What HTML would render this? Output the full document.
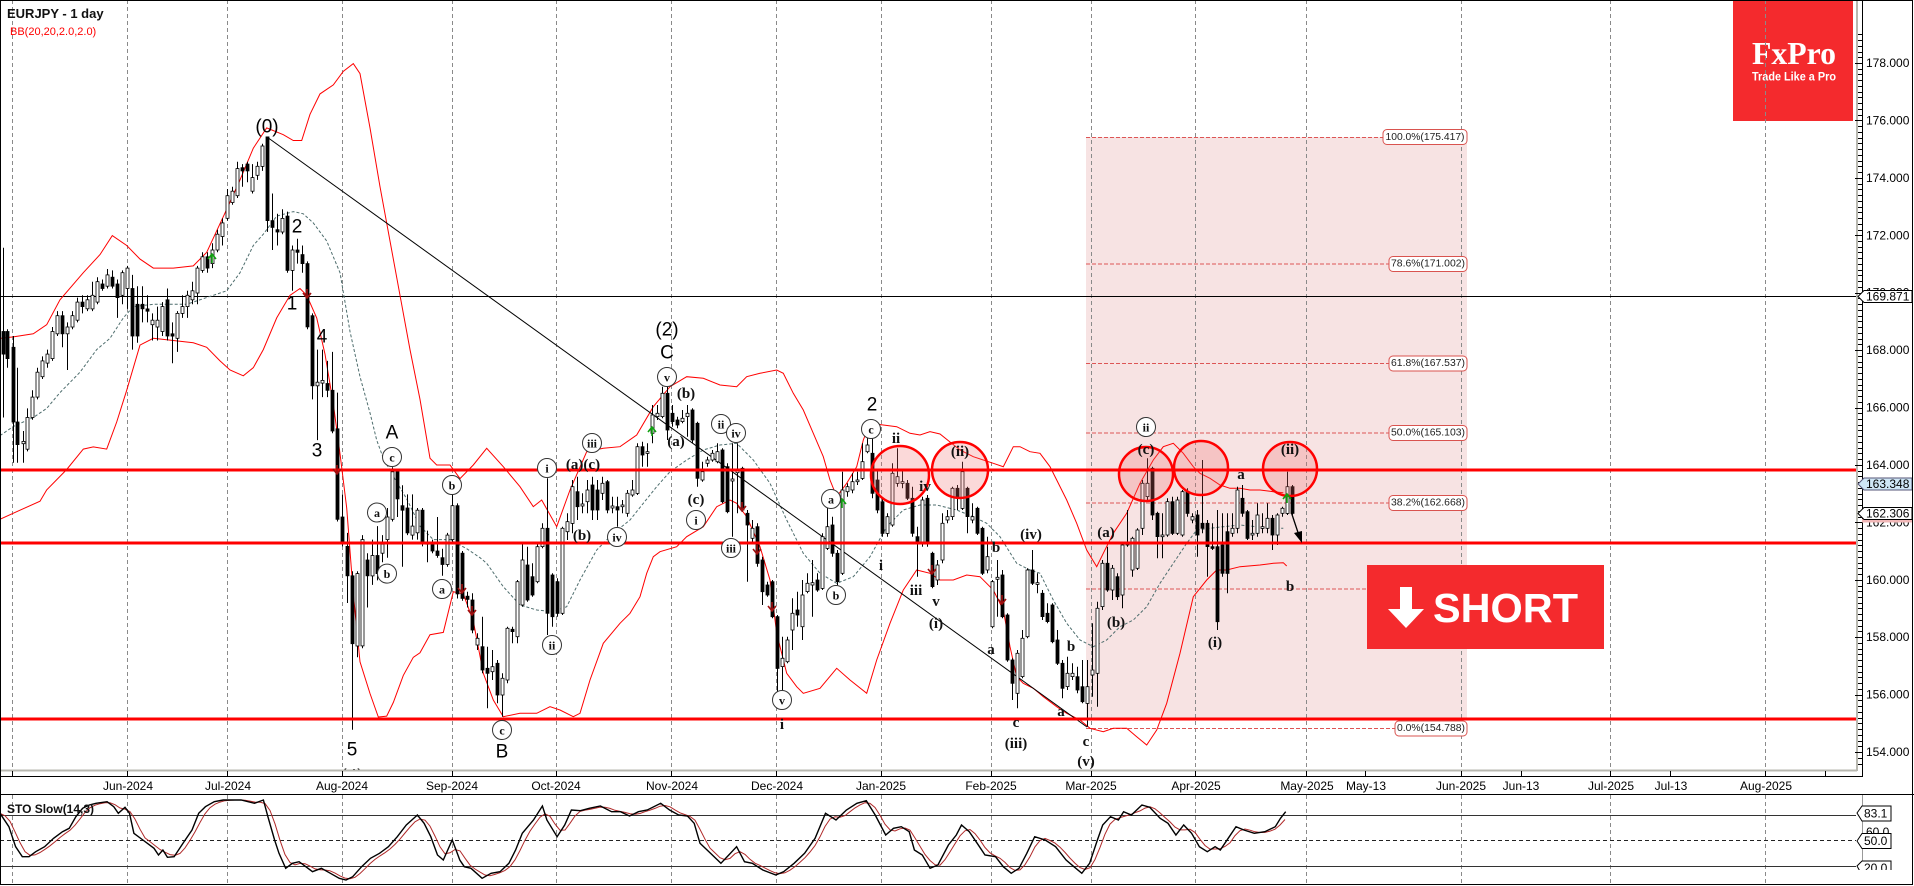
<!DOCTYPE html>
<html><head><meta charset="utf-8">
<style>
html,body{margin:0;padding:0;background:#fff;}
body{width:1914px;height:886px;overflow:hidden;position:relative;font-family:"Liberation Sans",sans-serif;}
svg{position:absolute;left:0;top:0;}
.ax{font-family:"Liberation Sans",sans-serif;font-size:12px;fill:#000;}
.ss{font-family:"Liberation Sans",sans-serif;font-size:19px;fill:#000;text-anchor:middle;dominant-baseline:central;}
.sf{font-family:"Liberation Serif",serif;font-size:15px;font-weight:bold;fill:#111;text-anchor:middle;dominant-baseline:central;}
.cf{font-family:"Liberation Serif",serif;font-size:12px;font-weight:bold;fill:#111;text-anchor:middle;dominant-baseline:central;}
.fl{font-family:"Liberation Sans",sans-serif;font-size:10px;fill:#222;text-anchor:middle;dominant-baseline:central;}
</style></head><body>
<svg id="s" width="1914" height="886" viewBox="0 0 1914 886" xmlns="http://www.w3.org/2000/svg">
<defs>
<clipPath id="mc"><rect x="1" y="1" width="1855" height="769"/></clipPath>
<clipPath id="sc"><rect x="1" y="795" width="1855" height="89"/></clipPath>
</defs>
<rect width="1914" height="886" fill="#fff"/>
<g clip-path="url(#mc)" id="main">
 <rect x="1086" y="137" width="381" height="582" fill="#f7e3e3"/>
 <rect x="1733" y="0" width="120" height="121" fill="#f42a2d"/>
 <text x="1752" y="64" font-family="Liberation Serif, serif" font-weight="bold" font-size="32" fill="#fff" textLength="84" lengthAdjust="spacingAndGlyphs">FxPro</text>
 <text x="1752" y="80.5" font-family="Liberation Sans, sans-serif" font-weight="bold" font-size="11.5" fill="#fff" textLength="84" lengthAdjust="spacingAndGlyphs">Trade Like a Pro</text>
 <path stroke="#8a8a8a" stroke-dasharray="4,3" stroke-width="1" fill="none" d="M12.5 0V770M127.5 0V770M227.5 0V770M342.5 0V770M452.5 0V770M556.5 0V770M671.5 0V770M776.5 0V770M881.5 0V770M991.5 0V770M1091.5 0V770M1195.5 0V770M1306.5 0V770M1461.5 0V770M1610.5 0V770M1765.5 0V770"/>
 <g stroke="#dd5555" stroke-width="1" stroke-dasharray="4,2" fill="none">
  <path d="M1086 137.5H1383"/>
  <path d="M1086 264H1389"/>
  <path d="M1086 363.5H1389"/>
  <path d="M1086 433H1389"/>
  <path d="M1086 503H1389"/>
  <path d="M1086 589H1380"/>
  <path d="M1086 728.5H1395"/>
 </g>
 <path d="M0 296.5H1856" stroke="#000" stroke-width="1"/>
 <g id="bb"></g>
 <path d="M267 137L1087 727" stroke="#000" stroke-width="1"/>
 <g id="candles"></g>
 <g fill="rgba(238,110,110,0.26)" stroke="#ff0000" stroke-width="2.5">
  <circle cx="900" cy="475" r="29"/>
  <circle cx="960" cy="470" r="28"/>
  <circle cx="1146" cy="474" r="27"/>
  <circle cx="1201" cy="468" r="27"/>
  <circle cx="1290" cy="469" r="27"/>
 </g>
 <g stroke="#ff0000" stroke-width="3">
  <path d="M0 470H1856"/><path d="M0 543H1856"/><path d="M0 719H1856"/>
 </g>
 <g id="arrows"></g>
 <path d="M1291.5 513L1298.5 534" stroke="#000" stroke-width="1.3"/>
 <path d="M1294 533L1302 531L1302 543Z" fill="#000"/>
 <text class="ss" x="267" y="127">(0)</text>
 <text class="ss" x="297" y="227">2</text>
 <text class="ss" x="292" y="304">1</text>
 <text class="ss" x="322" y="337">4</text>
 <text class="ss" x="317" y="451">3</text>
 <text class="ss" x="352" y="750">5</text>
 <text class="ss" x="352" y="777">(4)</text>
 <text class="ss" x="392" y="433">A</text>
 <text class="ss" x="502" y="752">B</text>
 <text class="ss" x="667" y="330">(2)</text>
 <text class="ss" x="667" y="353">C</text>
 <text class="ss" x="872" y="405">2</text>
 <g id="circ" fill="#fff" stroke="#333" stroke-width="1"></g>
 <text class="sf" x="583" y="465">(a)(c)</text>
 <text class="sf" x="582" y="536">(b)</text>
 <text class="sf" x="686" y="394">(b)</text>
 <text class="sf" x="676" y="442">(a)</text>
 <text class="sf" x="696" y="500">(c)</text>
 <text class="sf" x="782" y="725">i</text>
 <text class="sf" x="896" y="439">ii</text>
 <text class="sf" x="881" y="566">i</text>
 <text class="sf" x="925" y="487">iv</text>
 <text class="sf" x="916" y="591">iii</text>
 <text class="sf" x="936" y="602">v</text>
 <text class="sf" x="936" y="624">(i)</text>
 <text class="sf" x="960" y="452">(ii)</text>
 <text class="sf" x="996" y="548">b</text>
 <text class="sf" x="991" y="650">a</text>
 <text class="sf" x="1031" y="535">(iv)</text>
 <text class="sf" x="1016" y="723">c</text>
 <text class="sf" x="1016" y="744">(iii)</text>
 <text class="sf" x="1071" y="647">b</text>
 <text class="sf" x="1061" y="712">a</text>
 <text class="sf" x="1086" y="742">c</text>
 <text class="sf" x="1086" y="762">(v)</text>
 <text class="sf" x="1106" y="533">(a)</text>
 <text class="sf" x="1116" y="623">(b)</text>
 <text class="sf" x="1146" y="450">(c)</text>
 <text class="sf" x="1215" y="643">(i)</text>
 <text class="sf" x="1241" y="475">a</text>
 <text class="sf" x="1290" y="450">(ii)</text>
 <text class="sf" x="1290" y="587">b</text>
 <g fill="#fff" stroke="#d9534f" stroke-width="1">
  <rect x="1383" y="129.5" width="84" height="15" rx="4"/>
  <rect x="1389" y="256.5" width="78" height="15" rx="4"/>
  <rect x="1389" y="356" width="78" height="15" rx="4"/>
  <rect x="1389" y="425.5" width="78" height="15" rx="4"/>
  <rect x="1389" y="495.5" width="78" height="15" rx="4"/>
  <rect x="1395" y="721" width="72" height="15" rx="4"/>
 </g>
 <text class="fl" x="1425" y="137.5" textLength="79" lengthAdjust="spacingAndGlyphs">100.0%(175.417)</text>
 <text class="fl" x="1428" y="264" textLength="74" lengthAdjust="spacingAndGlyphs">78.6%(171.002)</text>
 <text class="fl" x="1428" y="363.5" textLength="74" lengthAdjust="spacingAndGlyphs">61.8%(167.537)</text>
 <text class="fl" x="1428" y="433" textLength="74" lengthAdjust="spacingAndGlyphs">50.0%(165.103)</text>
 <text class="fl" x="1428" y="503" textLength="74" lengthAdjust="spacingAndGlyphs">38.2%(162.668)</text>
 <text class="fl" x="1431" y="728.5" textLength="68" lengthAdjust="spacingAndGlyphs">0.0%(154.788)</text>
 <rect x="1367" y="565" width="237" height="84" fill="#f42a2d"/>
 <path d="M1400 587H1412V609H1424L1406 628L1388 609H1400Z" fill="#fff"/>
 <text x="1433" y="622" font-family="Liberation Sans, sans-serif" font-weight="bold" font-size="41" fill="#fff" textLength="145" lengthAdjust="spacingAndGlyphs">SHORT</text>
</g>
<text x="7" y="18" font-family="Liberation Sans, sans-serif" font-weight="bold" font-size="13" fill="#111">EURJPY - 1 day</text>
<text x="10" y="35" font-family="Liberation Sans, sans-serif" font-size="11" fill="#ff0000">BB(20,20,2.0,2.0)</text>
<path d="M1857 0V771M0 770.5H1857" stroke="#b8b8b0" stroke-width="2" fill="none"/>
<path d="M1862.5 0V776.5H0" stroke="#000" stroke-width="1" fill="none"/>
<g id="pticks" stroke="#000" stroke-width="1"></g>
<g class="ax" text-anchor="start" dominant-baseline="central">
 <text x="1866" y="63">178.000</text>
 <text x="1866" y="120.4">176.000</text>
 <text x="1866" y="177.8">174.000</text>
 <text x="1866" y="235.3">172.000</text>
 <text x="1866" y="292.7">170.000</text>
 <text x="1866" y="350.1">168.000</text>
 <text x="1866" y="407.5">166.000</text>
 <text x="1866" y="464.9">164.000</text>
 <text x="1866" y="522.4">162.000</text>
 <text x="1866" y="579.8">160.000</text>
 <text x="1866" y="637.2">158.000</text>
 <text x="1866" y="694.6">156.000</text>
 <text x="1866" y="752">154.000</text>
</g>
<path d="M1858 296.5L1864 290.5H1912V302.5H1864Z" fill="#fff" stroke="#000" stroke-width="1"/>
<text class="ax" x="1866" y="296.7" dominant-baseline="central">169.871</text>
<path d="M1858 484L1864 478H1912V490H1864Z" fill="#cfe6f6" stroke="#557" stroke-width="1"/>
<text class="ax" x="1866" y="484" dominant-baseline="central">163.348</text>
<rect x="1862" y="519" width="50" height="3.5" fill="#f2b8b8"/>
<path d="M1858 513.5L1864 507.5H1912V519.5H1864Z" fill="#fff" stroke="#000" stroke-width="1"/>
<text class="ax" x="1866" y="513.5" dominant-baseline="central">162.306</text>
<g id="tticks" stroke="#000" stroke-width="1"></g>
<g class="ax" text-anchor="middle" dominant-baseline="central">
 <text x="128" y="786">Jun-2024</text>
 <text x="228" y="786">Jul-2024</text>
 <text x="342" y="786">Aug-2024</text>
 <text x="452" y="786">Sep-2024</text>
 <text x="556" y="786">Oct-2024</text>
 <text x="672" y="786">Nov-2024</text>
 <text x="777" y="786">Dec-2024</text>
 <text x="881" y="786">Jan-2025</text>
 <text x="991" y="786">Feb-2025</text>
 <text x="1091" y="786">Mar-2025</text>
 <text x="1196" y="786">Apr-2025</text>
 <text x="1307" y="786">May-2025</text>
 <text x="1366" y="786">May-13</text>
 <text x="1461" y="786">Jun-2025</text>
 <text x="1521" y="786">Jun-13</text>
 <text x="1611" y="786">Jul-2025</text>
 <text x="1671" y="786">Jul-13</text>
 <text x="1766" y="786">Aug-2025</text>
</g>
<path d="M0 794.5H1914" stroke="#000" stroke-width="1"/>
<g clip-path="url(#sc)">
 <path stroke="#8a8a8a" stroke-dasharray="4,3" stroke-width="1" fill="none" d="M12.5 795V884M127.5 795V884M227.5 795V884M342.5 795V884M452.5 795V884M556.5 795V884M671.5 795V884M776.5 795V884M881.5 795V884M991.5 795V884M1091.5 795V884M1195.5 795V884M1306.5 795V884M1461.5 795V884M1610.5 795V884M1765.5 795V884"/>
 <path d="M0 815.5H1856M0 866.5H1856" stroke="#333" stroke-width="1"/>
 <path d="M0 840.5H1856" stroke="#222" stroke-width="1" stroke-dasharray="4,3"/>
 <g id="sto"></g>
</g>
<path d="M1862.5 795V884" stroke="#999" stroke-width="1"/>
<text x="7" y="809" font-family="Liberation Sans, sans-serif" font-weight="bold" font-size="12" fill="#111" dominant-baseline="central" textLength="87" lengthAdjust="spacingAndGlyphs">STO Slow(14,3)</text>
<text class="ax" x="1866" y="832" dominant-baseline="central">60.0</text>
<path d="M1857 813L1862 806H1891V821H1862Z" fill="#fff" stroke="#000" stroke-width="1"/>
<text class="ax" x="1864" y="813.5" dominant-baseline="central">83.1</text>
<path d="M1857 841L1862 833.5H1891V848.5H1862Z" fill="#fff" stroke="#000" stroke-width="1"/>
<text class="ax" x="1864" y="841" dominant-baseline="central">50.0</text>
<path d="M1857 866L1862 861H1891V875H1862Z" fill="#fff" stroke="#000" stroke-width="1"/>
<text class="ax" x="1864" y="868" dominant-baseline="central">20.0</text>
<rect x="1855" y="870" width="45" height="14" fill="#fff"/>
<rect x="0.5" y="0.5" width="1912" height="884" fill="none" stroke="#000" stroke-width="1"/>
</svg>
<script>
(function(){
const NS='http://www.w3.org/2000/svg';
function el(t,a,p){const e=document.createElementNS(NS,t);for(const k in a)e.setAttribute(k,a[k]);p.appendChild(e);return e;}
const c7=p=>[p[0]/3,60+p[1]/2.21];
const c8=p=>[470+p[0]/3,280+p[1]/3];
const c9=p=>[940+p[0]/3,280+p[1]/3];
const Z7=[[8,600,650,1,415,790],[20,600,660,1,595,680],[38,635,800,1,610,890],[52,800,850,1,680,890],[68,843,848,0,820,890],[82,790,860,0,770,865],[97,745,790,0,730,795],[112,690,745,0,680,750],[127,665,700,0,655,705],[142,650,670,0,640,680],[157,600,660,0,590,665],[172,565,605,0,555,610],[187,565,605,1,555,635],[202,590,605,0,580,685],[217,565,590,0,555,595],[232,535,575,0,525,580],[247,535,545,1,520,560],[262,530,550,0,520,555],[277,520,550,0,490,555],[292,490,535,0,480,540],[307,495,505,1,485,510],[322,475,500,0,462,505],[337,480,500,1,465,505],[352,495,525,1,485,570],[367,470,520,0,465,540],[382,460,505,0,455,550],[397,505,610,1,475,640],[412,540,610,1,500,625],[427,540,550,1,500,580],[442,550,555,1,520,580],[457,575,585,0,560,620],[472,575,590,0,545,620],[487,545,600,0,535,610],[502,530,610,1,505,620],[517,605,610,1,580,670],[532,560,615,0,555,645],[547,545,560,0,520,570],[562,520,545,0,510,570],[577,510,530,0,490,540],[592,460,515,0,455,540],[607,435,465,0,425,470],[622,435,460,1,425,470],[637,420,450,0,405,460],[652,385,420,0,375,425],[667,360,390,0,350,410],[682,300,350,0,285,355],[697,290,315,0,280,320],[712,240,300,0,225,305],[727,238,245,1,230,280],[742,230,245,1,225,270],[757,260,290,0,230,295],[772,235,255,0,225,265],[787,190,235,0,185,245],[802,170,355,1,170,380],[817,355,370,1,295,420],[832,375,380,1,340,410],[847,350,380,0,330,385],[862,345,465,1,335,470],[877,420,465,0,410,510],[892,420,425,1,395,450],[907,430,450,1,410,470],[922,450,590,1,445,595],[937,565,720,1,560,750],[952,712,720,0,640,840],[967,708,714,0,640,745],[982,715,730,1,665,745],[997,730,820,1,645,825],[1012,815,1015,1,735,1020],[1027,1010,1070,1,960,1075],[1042,1075,1140,1,1045,1200],[1057,1140,1290,1,1130,1480],[1070,1135,1295,0,1130,1320],[1085,1060,1295,0,1050,1300],[1100,1105,1140,1,1090,1210],[1115,1095,1140,0,1060,1160],[1130,1095,1135,1,1030,1150],[1145,1070,1090,0,1050,1110],[1160,1010,1060,0,990,1100],[1175,910,1015,0,900,1020],[1190,910,970,1,905,1010],[1205,985,995,1,940,1120],[1220,990,1045,1,960,1050],[1235,1030,1050,0,960,1060],[1250,995,1045,0,990,1060],[1265,995,1065,1,990,1075],[1280,1065,1070,1,1040,1110],[1295,1070,1085,1,1060,1090],[1310,1085,1095,1,1010,1100],[1325,1100,1115,1,1080,1140],[1340,1050,1115,0,1045,1120],[1355,985,1060,0,960,1065],[1370,985,1180,1,980,1190],[1385,1090,1190,1,1085,1195],[1400,1185,1192,1,1175,1210]];
const Z8=[[5,960,1050,1,940,1060],[20,1075,1095,0,1060,1110],[35,1100,1170,1,1010,1180],[50,1165,1180,1,1100,1285],[65,1160,1175,0,1110,1200],[80,1150,1245,1,1140,1270],[95,1195,1245,0,1180,1310],[110,1045,1200,0,1040,1210],[125,1048,1055,1,1040,1090],[140,905,1070,0,900,1090],[155,840,975,0,790,980],[170,855,960,1,800,965],[185,890,945,1,850,950],[200,800,905,0,790,910],[215,745,800,0,730,805],[230,745,1000,1,595,1065],[245,885,1010,1,880,1040],[260,905,1000,1,895,1010],[275,745,1000,0,740,1005],[290,725,755,0,700,780],[305,620,730,0,600,760],[320,635,680,1,590,720],[335,672,678,0,640,700],[350,630,665,0,600,700],[365,615,690,1,590,720],[380,630,690,1,600,720],[395,610,640,0,590,660],[410,605,690,1,600,700],[425,678,684,0,650,700],[440,680,690,1,650,740],[455,675,680,0,660,700],[470,640,700,0,630,710],[485,630,645,0,600,650],[500,500,640,0,490,645],[515,500,525,1,485,560],[530,515,520,0,490,560],[545,405,460,0,375,490],[560,400,410,0,375,420],[575,340,410,0,320,415],[590,340,450,1,320,480],[605,400,425,1,375,440],[620,420,435,1,410,445],[635,415,425,0,390,430],[650,400,410,0,375,470],[665,390,480,1,385,490],[680,430,595,1,425,620],[695,575,600,0,545,605],[710,540,550,0,530,560],[725,520,540,0,510,545],[740,515,545,0,490,550],[755,510,665,1,505,670],[770,560,695,1,550,700],[785,597,603,0,490,770],[800,572,578,0,490,700],[815,565,690,1,560,695],[830,700,735,1,690,905],[845,745,775,0,720,785],[860,740,850,1,730,860],[875,840,935,1,830,975],[890,915,945,1,905,950],[905,905,1010,1,900,1015],[920,1010,1165,1,1005,1240],[935,1135,1160,0,1070,1230],[950,1080,1145,0,1070,1150],[965,1000,1050,0,955,1110],[980,990,1005,1,935,1040],[995,945,1040,0,900,1080],[1010,910,935,0,880,940],[1025,908,915,0,840,1010],[1040,900,930,1,880,935],[1055,770,925,0,760,930],[1070,740,805,0,680,810],[1085,735,820,1,710,830],[1100,820,905,1,810,915],[1115,630,880,0,575,885],[1130,620,635,0,610,650],[1145,605,630,0,580,640],[1160,600,605,0,575,615],[1175,545,595,0,490,600],[1190,495,515,0,465,520],[1205,520,640,1,465,655],[1220,600,690,1,570,700],[1235,665,760,1,655,770],[1250,710,760,0,700,770],[1265,580,735,0,550,740],[1280,590,610,0,505,620],[1295,605,610,0,570,625],[1310,610,655,1,600,660],[1325,655,760,1,620,770],[1340,770,790,1,740,890],[1355,660,790,0,650,800],[1370,655,790,1,645,800],[1385,820,920,1,815,925],[1400,855,900,0,840,915]];
const Z9=[[5,730,840,0,700,850],[20,710,720,0,690,730],[35,625,710,0,620,720],[50,625,655,1,615,690],[65,575,685,0,545,690],[80,625,710,1,620,760],[95,710,720,0,670,730],[110,685,760,1,680,765],[125,745,880,1,740,885],[140,830,870,0,770,880],[155,905,1040,0,900,1045],[170,892,898,0,840,1010],[185,885,1010,1,870,1015],[200,1005,1140,1,1000,1145],[215,1140,1210,1,1135,1260],[230,1120,1240,0,1110,1285],[245,1075,1190,0,1050,1195],[260,870,1070,0,865,1075],[275,870,910,1,810,915],[290,908,913,0,880,940],[305,940,1010,1,930,1020],[320,1000,1025,1,970,1030],[335,975,1085,1,970,1090],[350,1080,1150,1,1050,1155],[365,1150,1225,1,1140,1255],[380,1180,1220,0,1130,1230],[395,1180,1190,0,1150,1200],[410,1190,1230,1,1160,1240],[425,1220,1265,1,1140,1270],[440,1220,1270,0,1140,1340],[455,1170,1185,0,1030,1250],[470,985,1180,0,965,1280],[485,850,980,0,840,990],[500,850,930,1,800,935],[515,865,930,0,855,960],[530,890,950,1,880,960],[545,795,945,0,790,985],[560,790,795,0,690,800],[575,775,870,0,770,890],[590,750,865,0,745,870],[605,610,745,0,600,765],[620,610,650,0,535,660],[635,565,705,1,560,720],[650,700,770,1,695,835],[665,765,770,0,700,835],[680,665,765,0,655,770],[695,665,760,1,650,765],[710,660,760,0,650,765],[725,635,765,0,630,770],[740,635,700,1,625,710],[755,710,720,0,700,730],[770,705,765,1,690,830],[785,730,745,1,540,760],[800,730,800,1,720,890],[815,800,805,1,730,810],[830,800,1025,1,690,1050],[845,795,880,1,700,890],[860,755,880,1,700,940],[875,745,760,0,700,770],[890,630,745,0,620,760],[905,655,700,1,615,710],[920,695,775,1,690,780],[935,760,765,0,720,780],[950,705,760,0,670,770],[965,740,745,0,700,760],[980,715,745,0,670,760],[995,715,765,1,705,810],[1010,705,765,0,700,795],[1025,685,700,0,680,710],[1040,620,700,0,575,705],[1055,620,700,1,615,705]];
const cg=document.getElementById('candles');
function dc(arr,cv){for(const b of arr){const p1=cv([b[0],b[1]]),p2=cv([b[0],b[2]]),w1=cv([b[0],b[4]]),w2=cv([b[0],b[5]]);const x=Math.round(p1[0])+0.5;el('line',{x1:x,x2:x,y1:w1[1].toFixed(1),y2:w2[1].toFixed(1),stroke:'#000','stroke-width':1},cg);const h=Math.max(1,p2[1]-p1[1]);el('rect',{x:x-1.5,y:p1[1].toFixed(1),width:3,height:h.toFixed(1),fill:b[3]?'#000':'#fff',stroke:'#000','stroke-width':0.8},cg);}}
dc(Z7,c7);dc(Z8,c8);dc(Z9,c9);
function pts(a,cv){return a.map(p=>cv(p)).map(q=>q[0].toFixed(1)+','+q[1].toFixed(1)).join(' ');}
const bb=document.getElementById('bb');
const U7=[[0,615],[40,612],[100,605],[140,585],[180,530],[250,470],[300,430],[337,388],[380,410],[420,440],[460,460],[520,460],[580,455],[620,425],[680,330],[720,265],[760,195],[800,150],[850,165],[880,178],[905,178],[930,120],[960,75],[1000,55],[1030,25],[1060,8],[1080,30],[1110,150],[1140,280],[1170,400],[1200,520],[1230,640],[1260,750],[1290,880],[1310,895],[1350,895],[1380,925],[1420,895]];
const U8=[[50,505],[100,560],[150,620],[190,680],[215,660],[260,740],[300,630],[350,515],[400,505],[450,500],[500,465],[550,380],[600,320],[650,290],[700,295],[750,315],[800,320],[830,290],[870,280],[920,270],[940,280],[970,340],[1000,390],[1030,460],[1060,530],[1080,600],[1100,650],[1130,610],[1160,560],[1180,480],[1200,430],[1240,435],[1280,440],[1320,460],[1350,465],[1380,455],[1410,462]];
const U9=[[60,510],[100,530],[130,540],[160,550],[190,560],[220,500],[240,500],[270,515],[300,520],[330,560],[350,600],[380,660],[410,730],[440,810],[470,860],[490,820],[520,760],[560,700],[600,610],[640,540],[670,500],[700,490],[730,520],[760,560],[780,580],[810,595],[840,615],[870,625],[900,625],[930,630],[960,630],[1000,635],[1030,638]];
const L7=[[0,1015],[60,995],[120,975],[140,950],[200,905],[250,860],[280,855],[320,860],[350,800],[380,730],[420,630],[460,615],[520,620],[580,625],[620,635],[660,665],[690,685],[730,698],[760,680],[790,640],[830,570],[870,520],[900,505],[920,520],[950,570],[975,650],[1000,760],[1020,870],[1040,990],[1060,1180],[1080,1330],[1110,1400],[1135,1452],[1160,1450],[1180,1420],[1210,1360],[1240,1320],[1260,1310],[1290,1270],[1330,1265],[1360,1175],[1390,1180],[1420,1240]];
const L8=[[40,1180],[70,1260],[100,1310],[150,1300],[200,1300],[240,1280],[270,1290],[310,1310],[330,1300],[360,1200],[400,1090],[450,1030],[480,1000],[510,950],[530,880],[550,830],[570,815],[620,800],[650,770],[700,740],[740,680],[780,660],[800,670],[830,710],[870,800],[900,900],[920,1060],[950,1180],[980,1220],[1000,1240],[1050,1225],[1100,1165],[1140,1200],[1190,1240],[1220,1140],[1260,1030],[1300,930],[1340,870],[1380,880],[1410,900]];
const L9=[[40,900],[80,885],[120,890],[160,930],[190,990],[210,1100],[230,1190],[250,1210],[280,1225],[310,1250],[350,1280],[380,1300],[420,1320],[450,1345],[490,1355],[520,1345],[560,1345],[590,1370],[620,1395],[650,1350],[680,1270],[720,1120],[760,950],[800,900],[830,870],[860,870],[900,860],[960,855],[1000,850],[1030,848],[1040,858]];
const M7=[[0,830],[40,810],[100,790],[140,770],[180,735],[240,690],[290,640],[330,615],[370,570],[400,545],[460,540],[560,540],[640,520],[680,510],[720,470],[760,410],[790,385],[830,345],[880,335],[910,340],[940,360],[980,400],[1020,470],[1050,600],[1080,700],[1110,780],[1130,840],[1150,880],[1180,920],[1220,970],[1260,1030],[1300,1060],[1350,1060],[1400,1080],[1440,1100]];
const M8=[[50,850],[100,920],[150,975],[200,990],[250,995],[290,980],[330,900],[380,810],[430,760],[480,720],[520,670],[560,620],[600,575],[650,540],[700,510],[750,495],[800,490],[850,540],[900,610],[950,720],[1000,820],[1050,880],[1100,910],[1150,890],[1200,830],[1250,740],[1300,690],[1350,675],[1400,675]];
const M9=[[50,690],[100,710],[140,730],[180,770],[230,850],[270,870],[300,880],[340,960],[380,1030],[420,1080],[460,1100],[500,1080],[540,1040],[580,1020],[620,980],[660,910],[700,850],[740,790],[770,750],[810,745],[850,740],[900,735],[950,740],[1000,745],[1030,745]];
function line3(a,b,c,attrs){el('polyline',Object.assign({points:pts(a,c7)+' '+pts(b,c8)+' '+pts(c,c9),fill:'none'},attrs),bb);}
line3(M7,M8,M9,{stroke:'#4f6e6e','stroke-width':1,'stroke-dasharray':'3,2'});
line3(U7,U8,U9,{stroke:'#ff0000','stroke-width':1});
line3(L7,L8,L9,{stroke:'#ff0000','stroke-width':1});
const circ=document.getElementById('circ');
const CL=[[392,457,'c'],[377,512.5,'a'],[387,573.6,'b'],[452,485,'b'],[442,589,'a'],[502,730,'c'],[547,468,'i'],[552,645,'ii'],[592,443,'iii'],[617,537,'iv'],[667,377,'v'],[696,520,'i'],[721,424,'ii'],[736,433,'iv'],[731,548,'iii'],[782,700,'v'],[831,499,'a'],[836,595,'b'],[871,429,'c'],[1146,427,'ii']];
for(const c of CL){el('circle',{cx:c[0],cy:c[1],r:9.5},circ);const t=el('text',{x:c[0],y:c[1]+0.5,class:'cf',stroke:'none'},circ);t.textContent=c[2];}
const ar=document.getElementById('arrows');
const RD=[[307,297],[337,473],[462,592],[472,614],[742,510],[757,553],[772,610],[932,573],[1002,603]];
for(const a of RD){el('path',{d:`M${a[0]} ${a[1]-8}V${a[1]}M${a[0]-4} ${a[1]-4}L${a[0]} ${a[1]+1}L${a[0]+4} ${a[1]-4}`,stroke:'#a01010','stroke-width':1.6,fill:'none'},ar);}
const GU=[[212,255],[652,428],[842,500],[1287,495]];
for(const a of GU){el('path',{d:`M${a[0]} ${a[1]+8}V${a[1]}M${a[0]-4} ${a[1]+4}L${a[0]} ${a[1]-1}L${a[0]+4} ${a[1]+4}`,stroke:'#10a010','stroke-width':1.6,fill:'none'},ar);}
const pt=document.getElementById('pticks');
let d='';
for(let i=0;i<=130;i++){const p=153+i*0.2;const y=63+(178-p)*28.71;if(y<2||y>768)continue;const maj=Math.abs((p/2)-Math.round(p/2))<0.01;const yy=Math.round(y)+0.5;d+=`M${maj?1855:1858} ${yy}H1862`;}
el('path',{d:d},pt);
const tt=document.getElementById('tticks');
let d2='';
[12.5,127.5,227.5,342.5,452.5,556.5,671.5,776.5,881.5,991.5,1091.5,1195.5,1306.5,1365.5,1461.5,1521.5,1610.5,1670.5,1765.5,1825.5].forEach(x=>{d2+=`M${x} 771V776`;});
el('path',{d:d2},tt);
const S5=[[0,340],[20,380],[35,440],[50,470],[65,470],[80,455],[100,440],[120,415],[140,395],[155,385],[170,350],[185,325],[200,315],[215,310],[240,305],[255,320],[265,340],[280,322],[290,340],[300,400],[320,420],[345,445],[355,465],[365,450],[375,472],[390,470],[410,430],[430,390],[445,340],[460,320],[480,305],[500,300],[540,300],[570,310],[590,300],[600,350],[615,420],[625,460],[640,505],[655,490],[670,485],[685,500],[700,515],[720,505],[740,520],[760,535],[775,540],[790,530],[810,500],[830,475],[850,460],[870,440],[890,410],[910,375],[935,345],[950,370],[965,410],[980,465],[993,480],[1013,420],[1020,445],[1030,480],[1040,500],[1055,505],[1080,535],[1100,520],[1120,515],[1140,490],[1155,450],[1170,400],[1195,360],[1215,318],[1225,360],[1248,410],[1265,375],[1280,330],[1300,332],[1320,325],[1345,318],[1370,335],[1390,335],[1410,348],[1430,335],[1450,330],[1480,310],[1500,330],[1520,345],[1540,348],[1555,370],[1568,430]].map(p=>[p[0]*700/1568,700+p[1]/3]);
const S6=[[0,440],[20,460],[40,490],[55,465],[70,440],[85,485],[100,490],[120,510],[145,525],[160,515],[180,490],[200,460],[220,415],[240,340],[260,360],[280,330],[300,310],[318,302],[335,345],[355,405],[370,385],[385,380],[400,395],[410,450],[425,465],[440,505],[455,495],[475,435],[490,405],[500,375],[515,395],[530,430],[545,465],[565,470],[580,500],[595,520],[610,505],[625,460],[640,410],[660,420],[680,440],[700,480],[715,500],[730,520],[745,490],[760,420],[770,375],[785,350],[800,360],[810,335],[825,345],[845,315],[860,322],[880,355],[895,370],[910,405],[925,375],[940,400],[955,440],[970,455],[985,440],[995,450],[1010,415],[1025,380],[1040,390],[1060,400],[1080,395],[1100,380],[1110,355],[1120,335]].map(p=>[700+p[0]*820/1568,700+p[1]/3]);
const K=S5.concat(S6.slice(1));
function interp(x){for(let i=1;i<K.length;i++){if(K[i][0]>=x){const a=K[i-1],b=K[i];const t=(x-a[0])/((b[0]-a[0])||1);return a[1]+t*(b[1]-a[1]);}}return K[K.length-1][1];}
const xs=[];for(let x=0;x<=K[K.length-1][0];x+=5)xs.push(x);
const ys=xs.map(interp);
const D=[];for(let i=0;i<ys.length;i++){const a=ys[Math.max(0,i-2)],b=ys[Math.max(0,i-1)],c=ys[i];D.push([xs[i],(a+b+c)/3]);}
const sg=document.getElementById('sto');
el('polyline',{points:D.map(p=>p[0].toFixed(1)+','+p[1].toFixed(1)).join(' '),fill:'none',stroke:'#b02a2a','stroke-width':1},sg);
el('polyline',{points:K.map(p=>p[0].toFixed(1)+','+p[1].toFixed(1)).join(' '),fill:'none',stroke:'#000','stroke-width':1.4},sg);
})();
</script>
</body></html>
